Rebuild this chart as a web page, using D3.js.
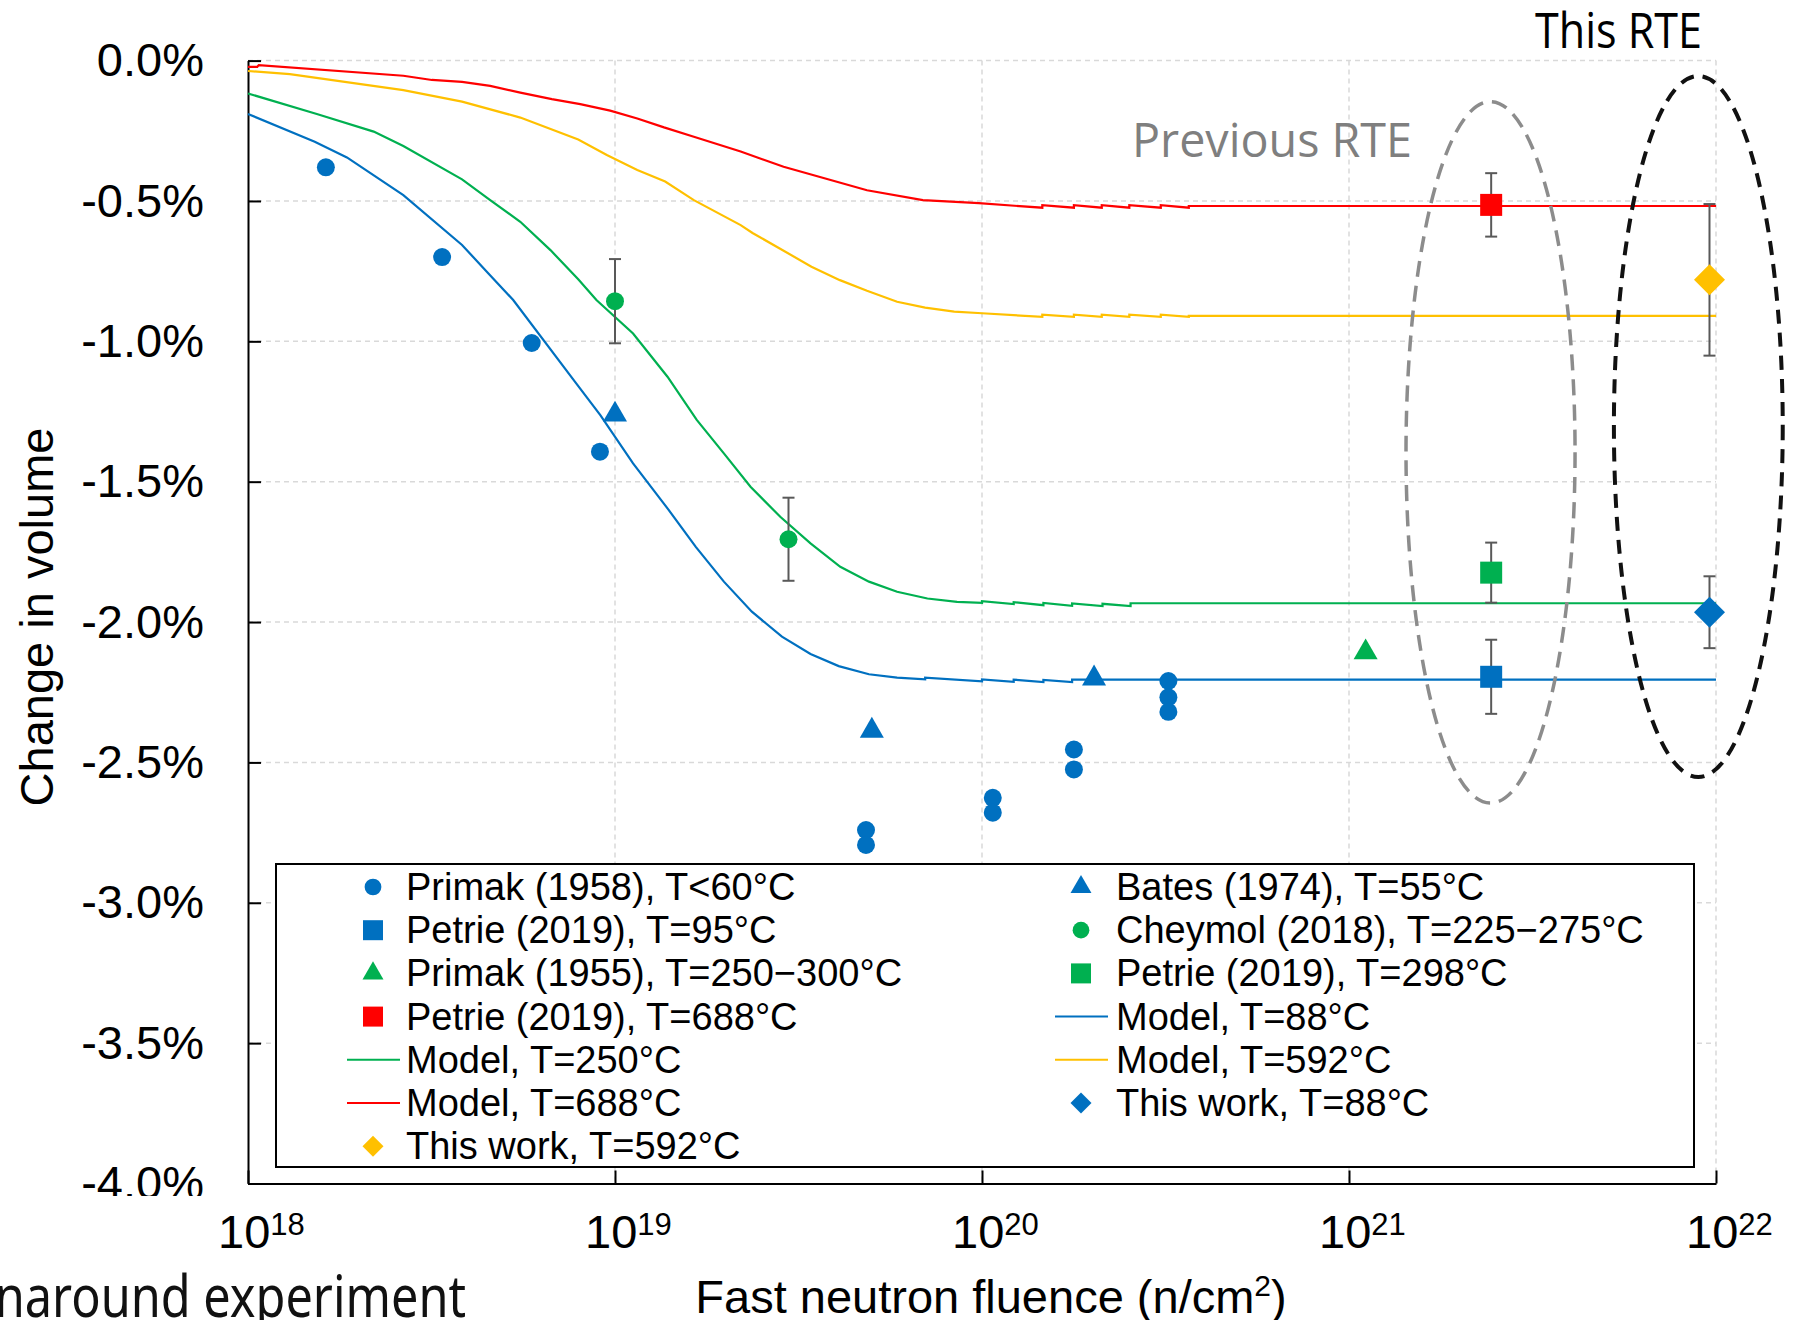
<!DOCTYPE html>
<html>
<head>
<meta charset="utf-8">
<script src="https://cdn.jsdelivr.net/npm/d3@7"></script>
<style>
body { margin: 0; background: #fff; }
svg { display: block; font-family: "Liberation Sans", Arial, sans-serif; }
</style>
</head>
<body>
<div id="chart"></div>
<script>
// axis ticks
var yTicks = [0, -0.5, -1, -1.5, -2, -2.5, -3, -3.5, -4];
var xTicks = [1e18, 1e19, 1e20, 1e21, 1e22];
var xTickExps = ["18", "19", "20", "21", "22"];

// measured points: [fluence n/cm2, change in volume %, error %]
var primak1958 = [[1.63e18,-0.38],[3.38e18,-0.70],[5.93e18,-1.006],[9.1e18,-1.393],
	[4.83e19,-2.741],[4.83e19,-2.794],[1.07e20,-2.626],[1.07e20,-2.679],
	[1.78e20,-2.454],[1.78e20,-2.525],[3.22e20,-2.210],[3.22e20,-2.268],[3.22e20,-2.320]];
var bates1974 = [[1.0e19,-1.261],[5.01e19,-2.387],[2.02e20,-2.201]];
var cheymol2018 = [[1.0e19,-0.857,0.150],[2.97e19,-1.705,0.148]];
var primak1955 = [[1.11e21,-2.108]];
var petrie95 = [[2.44e21,-2.195,0.132]];
var petrie298 = [[2.44e21,-1.824,0.107]];
var petrie688 = [[2.44e21,-0.514,0.113]];
var thisWork88 = [[9.6e21,-1.965,0.128]];
var thisWork592 = [[9.6e21,-0.781,0.27]];

// model curves: [fluence, %]
var model88 = [[1e18,-0.19],[1.52e18,-0.289],[1.86e18,-0.345],[2.65e18,-0.479],[3.83e18,-0.657],
	[4.52e18,-0.758],[5.28e18,-0.853],[7.83e18,-1.149],[9.12e18,-1.263],[1.12e19,-1.435],
	[1.39e19,-1.595],[1.66e19,-1.732],[1.98e19,-1.856],[2.36e19,-1.963],[2.85e19,-2.052],
	[3.41e19,-2.114],[4.07e19,-2.157],[4.92e19,-2.186],[5.87e19,-2.198],[7.0e19,-2.204],
	[7.0e19,-2.198],[1e20,-2.211],[1e20,-2.204],[1.22e20,-2.213],[1.22e20,-2.205],
	[1.47e20,-2.214],[1.47e20,-2.206],[1.76e20,-2.214],[1.76e20,-2.205],[1e22,-2.205]];
var model250 = [[1e18,-0.117],[1.54e18,-0.190],[2.2e18,-0.253],[2.65e18,-0.304],[3.83e18,-0.423],
	[4.57e18,-0.497],[5.52e18,-0.574],[6.67e18,-0.675],[7.94e18,-0.779],[8.9e18,-0.853],
	[1.12e19,-0.972],[1.39e19,-1.126],[1.67e19,-1.280],[1.98e19,-1.399],[2.34e19,-1.518],
	[2.82e19,-1.625],[3.41e19,-1.720],[4.11e19,-1.803],[4.92e19,-1.856],[5.87e19,-1.892],
	[7.1e19,-1.916],[8.55e19,-1.928],[1e20,-1.932],[1e20,-1.926],[1.22e20,-1.936],[1.22e20,-1.929],
	[1.47e20,-1.940],[1.47e20,-1.932],[1.76e20,-1.942],[1.76e20,-1.934],[2.13e20,-1.943],
	[2.13e20,-1.935],[2.54e20,-1.943],[2.54e20,-1.933],[1e22,-1.933]];
var model592 = [[1e18,-0.037],[1.30e18,-0.048],[2.65e18,-0.105],[3.83e18,-0.146],[5.52e18,-0.203],
	[7.94e18,-0.281],[9.5e18,-0.336],[1.15e19,-0.39],[1.37e19,-0.431],[1.64e19,-0.497],
	[2.2e19,-0.586],[2.37e19,-0.614],[3.43e19,-0.734],[4.1e19,-0.782],[4.86e19,-0.82],
	[5.87e19,-0.859],[7.0e19,-0.880],[8.4e19,-0.894],[1e20,-0.900],[1.46e20,-0.913],[1.46e20,-0.905],
	[1.78e20,-0.913],[1.78e20,-0.905],[2.12e20,-0.913],[2.12e20,-0.905],[2.52e20,-0.913],
	[2.52e20,-0.905],[3.07e20,-0.913],[3.07e20,-0.905],[3.66e20,-0.913],[3.66e20,-0.909],[1e22,-0.909]];
var model688 = [[1e18,-0.022],[1.06e18,-0.022],[1.07e18,-0.016],[2.65e18,-0.054],[3.17e18,-0.069],
	[3.83e18,-0.076],[4.57e18,-0.090],[5.52e18,-0.114],[6.73e18,-0.137],[8.04e18,-0.155],
	[9.7e18,-0.178],[1.15e19,-0.206],[1.36e19,-0.238],[1.64e19,-0.271],[2.2e19,-0.324],
	[2.88e19,-0.378],[4.86e19,-0.462],[6.9e19,-0.497],[9.8e19,-0.508],[1.46e20,-0.524],[1.46e20,-0.515],
	[1.78e20,-0.524],[1.78e20,-0.515],[2.12e20,-0.524],[2.12e20,-0.515],[2.52e20,-0.524],
	[2.52e20,-0.515],[3.07e20,-0.524],[3.07e20,-0.515],[3.66e20,-0.524],[3.66e20,-0.518],[1e22,-0.518]];

// dashed ellipses: [fluence left, fluence right, % top, % bottom]
var prevRteBox = [1.43e21, 4.13e21, -0.146, -2.645];
var thisRteBox = [5.27e21, 1.52e22, -0.055, -2.552];

var blue = '#0070C0', green = '#00B050', red = '#FF0000', gold = '#FFC000';

var chartW = 1793, chartH = 1320;
var plotLeft = 248, plotRight = 1716, plotTop = 60.6, plotBottom = 1183.5;

var svg = d3.select('#chart').append('svg')
	.attr('width', chartW)
	.attr('height', chartH);

var x = d3.scaleLog().domain([1e18, 1e22]).range([plotLeft, plotRight]);
var y = d3.scaleLinear().domain([0, -4]).range([plotTop, plotBottom]);

// grid
var grid = svg.append('g')
	.attr('stroke', '#d9d9d9')
	.attr('stroke-width', 1.5)
	.attr('stroke-dasharray', '5,4');
grid.selectAll('.gy')
	.data(yTicks.filter(function(d) { return d > -4; }))
	.enter().append('line')
	.attr('x1', plotLeft).attr('x2', plotRight)
	.attr('y1', function(d) { return y(d); })
	.attr('y2', function(d) { return y(d); });
grid.selectAll('.gx')
	.data(xTicks.slice(1))
	.enter().append('line')
	.attr('x1', function(d) { return x(d); })
	.attr('x2', function(d) { return x(d); })
	.attr('y1', plotTop).attr('y2', plotBottom);

// axes
svg.append('clipPath').attr('id', 'ylabclip')
	.append('rect').attr('x', -300).attr('y', 0).attr('width', 400).attr('height', 1196);

var yAxis = svg.append('g')
	.attr('transform', 'translate(' + plotLeft + ',0)')
	.attr('clip-path', 'url(#ylabclip)')
	.call(d3.axisLeft(y).tickValues(yTicks).tickSize(-13).tickSizeOuter(0).tickPadding(44)
		.tickFormat(function(d) { return d.toFixed(1) + '%'; }));
yAxis.selectAll('text').attr('font-size', 47).attr('fill', '#000').attr('font-family', '"Liberation Sans", Arial, sans-serif');
yAxis.selectAll('line, path').attr('stroke', '#000').attr('stroke-width', 2);

var xAxis = svg.append('g')
	.attr('transform', 'translate(0,' + plotBottom + ')')
	.call(d3.axisBottom(x).tickValues(xTicks).tickSize(-13).tickSizeOuter(0).tickFormat(''));
xAxis.selectAll('line, path').attr('stroke', '#000').attr('stroke-width', 2);

var xLab = svg.append('g').selectAll('text')
	.data(xTicks)
	.enter().append('text')
	.attr('x', function(d) { return x(d) - 30; })
	.attr('y', 1248)
	.attr('font-size', 47);
xLab.append('tspan').text('10');
xLab.append('tspan')
	.attr('font-size', 31)
	.attr('dy', -13)
	.text(function(d, i) { return xTickExps[i]; });

// axis titles
svg.append('text')
	.attr('transform', 'translate(53,617) rotate(-90)')
	.attr('text-anchor', 'middle')
	.attr('font-size', 47)
	.text('Change in volume');

var xt = svg.append('text')
	.attr('x', 991).attr('y', 1313)
	.attr('text-anchor', 'middle')
	.attr('font-size', 47);
xt.append('tspan').text('Fast neutron fluence (n/cm');
xt.append('tspan').attr('font-size', 30).attr('dy', -17).text('2');
xt.append('tspan').attr('dy', 17).text(')');

// model curves
var line = d3.line()
	.x(function(d) { return x(d[0]); })
	.y(function(d) { return y(d[1]); });
[[model688, red], [model592, gold], [model250, green], [model88, blue]].forEach(function(m) {
	svg.append('path')
		.datum(m[0])
		.attr('d', line)
		.attr('fill', 'none')
		.attr('stroke', m[1])
		.attr('stroke-width', 2.2);
});

// dashed ellipses
function ellipse(box, color, dash, sw) {
	var x0 = x(box[0]), x1 = x(box[1]), y0 = y(box[2]), y1 = y(box[3]);
	svg.append('ellipse')
		.attr('cx', (x0 + x1) / 2).attr('cy', (y0 + y1) / 2)
		.attr('rx', (x1 - x0) / 2).attr('ry', (y1 - y0) / 2)
		.attr('fill', 'none')
		.attr('stroke', color)
		.attr('stroke-width', sw)
		.attr('stroke-dasharray', dash);
}
ellipse(prevRteBox, '#8c8c8c', '16,9', 3.5);
ellipse(thisRteBox, '#111', '14,9', 4);

// error bars
var errs = [].concat(cheymol2018, petrie95, petrie298, petrie688, thisWork88, thisWork592);
var eg = svg.append('g').attr('stroke', '#595959').attr('stroke-width', 2);
errs.forEach(function(d) {
	var cx = x(d[0]), ya = y(d[1] + d[2]), yb = y(d[1] - d[2]);
	eg.append('line').attr('x1', cx).attr('x2', cx).attr('y1', ya).attr('y2', yb);
	eg.append('line').attr('x1', cx - 6).attr('x2', cx + 6).attr('y1', ya).attr('y2', ya);
	eg.append('line').attr('x1', cx - 6).attr('x2', cx + 6).attr('y1', yb).attr('y2', yb);
});

// markers
function shape(kind, big) {
	if (kind === 'circle') return d3.symbol().type(d3.symbolCircle).size(big ? 254 : 220)();
	if (kind === 'square') return d3.symbol().type(d3.symbolSquare).size(big ? 484 : 400)();
	if (kind === 'triangle') return d3.symbol().type(d3.symbolTriangle).size(big ? 250 : 190)();
	return d3.symbol().type(d3.symbolSquare).size(big ? 480 : 220)();
}
function marks(data, kind, color) {
	svg.append('g').selectAll('path')
		.data(data)
		.enter().append('path')
		.attr('d', shape(kind, true))
		.attr('fill', color)
		.attr('transform', function(d) {
			return 'translate(' + x(d[0]) + ',' + y(d[1]) + ')' + (kind === 'diamond' ? ' rotate(45)' : '');
		});
}
marks(primak1958, 'circle', blue);
marks(bates1974, 'triangle', blue);
marks(cheymol2018, 'circle', green);
marks(primak1955, 'triangle', green);
marks(petrie95, 'square', blue);
marks(petrie298, 'square', green);
marks(petrie688, 'square', red);
marks(thisWork88, 'diamond', blue);
marks(thisWork592, 'diamond', gold);

// annotations
svg.append('text')
	.attr('x', 1132).attr('y', 157)
	.attr('font-family', '"Open Sans", sans-serif')
	.attr('font-size', 48)
	.attr('fill', '#7f7f7f')
	.attr('textLength', 280).attr('lengthAdjust', 'spacingAndGlyphs')
	.text('Previous RTE');
svg.append('text')
	.attr('x', 1535).attr('y', 48)
	.attr('font-family', '"Open Sans", sans-serif')
	.attr('font-size', 49)
	.attr('fill', '#000')
	.attr('textLength', 167).attr('lengthAdjust', 'spacingAndGlyphs')
	.text('This RTE');
svg.append('text')
	.attr('x', -80).attr('y', 1317)
	.attr('font-family', '"Noto Sans", sans-serif')
	.attr('font-size', 58)
	.attr('fill', '#111')
	.attr('textLength', 546).attr('lengthAdjust', 'spacingAndGlyphs')
	.text('Turnaround experiment');

// legend
var legendItems = [
	['Primak (1958), T<60°C', 'circle', blue],
	['Bates (1974), T=55°C', 'triangle', blue],
	['Petrie (2019), T=95°C', 'square', blue],
	['Cheymol (2018), T=225\u2212275°C', 'circle', green],
	['Primak (1955), T=250\u2212300°C', 'triangle', green],
	['Petrie (2019), T=298°C', 'square', green],
	['Petrie (2019), T=688°C', 'square', red],
	['Model, T=88°C', 'line', blue],
	['Model, T=250°C', 'line', green],
	['Model, T=592°C', 'line', gold],
	['Model, T=688°C', 'line', red],
	['This work, T=88°C', 'diamond', blue],
	['This work, T=592°C', 'diamond', gold]
];
var lg = svg.append('g');
lg.append('rect')
	.attr('x', 276).attr('y', 864)
	.attr('width', 1418).attr('height', 303)
	.attr('fill', '#fff')
	.attr('stroke', '#000')
	.attr('stroke-width', 2);
var colX = [373, 1081], textX = [406, 1116];
legendItems.forEach(function(it, i) {
	var c = i % 2, r = Math.floor(i / 2);
	var base = 900 + r * 43.2, mid = base - 13;
	if (it[1] === 'line') {
		lg.append('line')
			.attr('x1', colX[c] - 26).attr('x2', colX[c] + 27)
			.attr('y1', mid).attr('y2', mid)
			.attr('stroke', it[2]).attr('stroke-width', 2);
	} else {
		lg.append('path')
			.attr('d', shape(it[1], false))
			.attr('fill', it[2])
			.attr('transform', 'translate(' + colX[c] + ',' + mid + ')' + (it[1] === 'diamond' ? ' rotate(45)' : ''));
	}
	lg.append('text')
		.attr('x', textX[c]).attr('y', base)
		.attr('font-size', 38)
		.text(it[0]);
});
</script>
</body>
</html>
